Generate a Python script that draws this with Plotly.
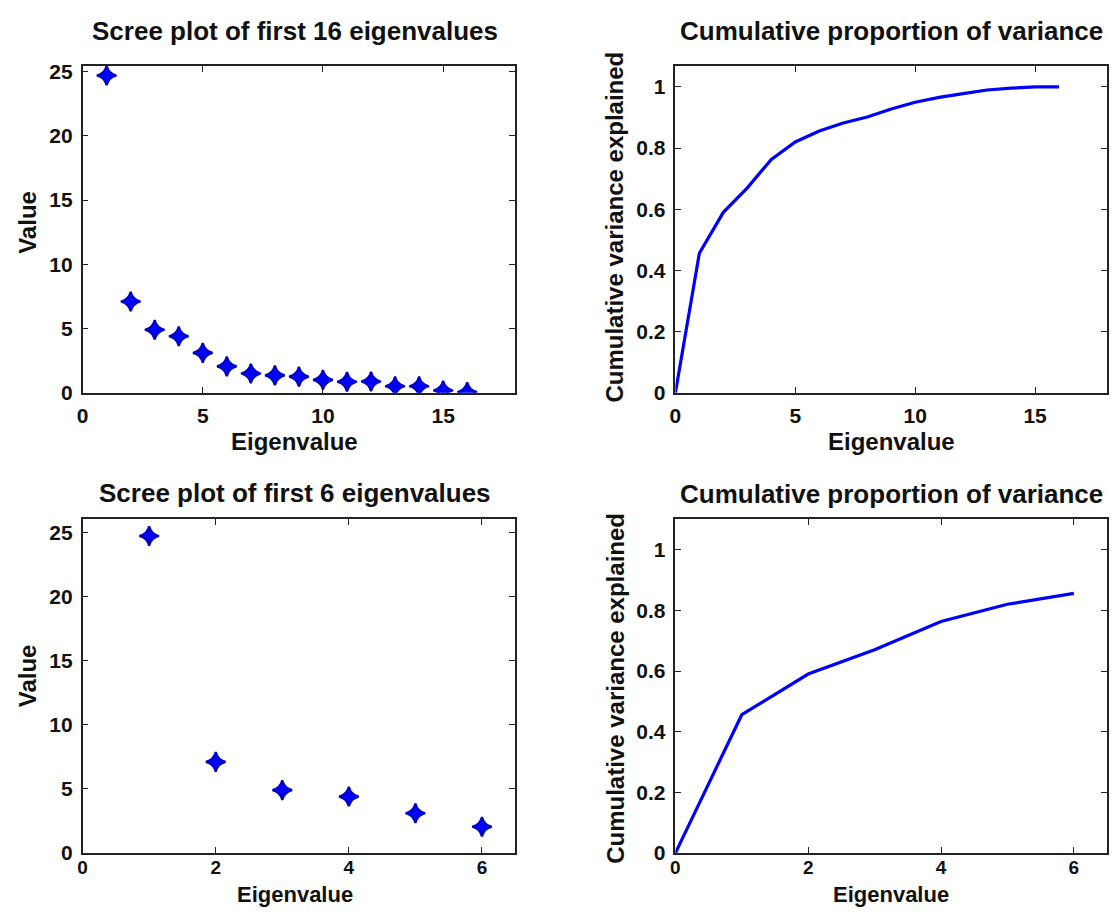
import plotly.graph_objects as go

# ---- data ----
eig_index = [1, 2, 3, 4, 5, 6, 7, 8, 9, 10, 11, 12, 13, 14, 15, 16]
eigenvalues = [24.7, 7.1, 4.9, 4.4, 3.1, 2.05, 1.5, 1.35, 1.25, 1.0, 0.85, 0.87, 0.5, 0.5, 0.17, 0.05]
cum_index = [0, 1, 2, 3, 4, 5, 6, 7, 8, 9, 10, 11, 12, 13, 14, 15, 16]
cum_variance = [0, 0.456, 0.59, 0.67, 0.763, 0.82, 0.856, 0.882, 0.902, 0.928, 0.95,
                0.966, 0.978, 0.99, 0.996, 1.0, 1.0]
n_small = 6

titles = ["Scree plot of first 16 eigenvalues", "Cumulative proportion of variance",
          "Scree plot of first 6 eigenvalues", "Cumulative proportion of variance"]
xlabel = "Eigenvalue"
ylabels = ["Value", "Cumulative variance explained", "Value", "Cumulative variance explained"]

W, H = 1115, 919
FONT = "Liberation Sans, Arial, Helvetica, sans-serif"
BLUE = "#0000ff"

def px_x(a, b):
    return [a / W, b / W]

def px_y(top, bottom):
    return [1 - bottom / H, 1 - top / H]

fig = go.Figure()

star = dict(symbol="star-diamond", size=14, color=BLUE, line=dict(color="#0000c8", width=2.2))

fig.add_trace(go.Scatter(x=eig_index, y=eigenvalues, mode="markers", marker=star,
                         xaxis="x", yaxis="y", showlegend=False))
fig.add_trace(go.Scatter(x=cum_index, y=cum_variance, mode="lines",
                         line=dict(color=BLUE, width=3.2), xaxis="x2", yaxis="y2", showlegend=False))
fig.add_trace(go.Scatter(x=eig_index[:n_small], y=eigenvalues[:n_small], mode="markers", marker=star,
                         xaxis="x3", yaxis="y3", showlegend=False))
fig.add_trace(go.Scatter(x=cum_index[:n_small + 1], y=cum_variance[:n_small + 1], mode="lines",
                         line=dict(color=BLUE, width=3.2), xaxis="x4", yaxis="y4", showlegend=False))

tickfont = dict(family=FONT, size=21, color="#111111", weight="bold")
tickfont_small = dict(family=FONT, size=19, color="#111111", weight="bold")

def ax(domain, rng, dtick, anchor, **kw):
    d = dict(domain=domain, range=rng, dtick=dtick, tick0=0, anchor=anchor,
             showline=True, linecolor="#222222", linewidth=1.5, mirror="ticks",
             ticks="inside", ticklen=6, tickwidth=1.3, tickcolor="#222222",
             showgrid=False, zeroline=False, tickfont=tickfont, fixedrange=True)
    d.update(kw)
    return d

TOP = px_y(61, 394)
BOT = px_y(523, 863)
LEFT = px_x(77, 512)
RIGHT = px_x(673, 1107)

fig.update_layout(
    width=W, height=H, autosize=False,
    margin=dict(l=0, r=0, t=0, b=0),
    paper_bgcolor="white", plot_bgcolor="white",
    xaxis=ax(LEFT, [0, 18], 5, "y", ticklabelstandoff=3),
    yaxis=ax(TOP, [0, 25.45], 5, "x", ticklabelstandoff=4),
    xaxis2=ax(RIGHT, [0, 18], 5, "y2", ticklabelstandoff=3),
    yaxis2=ax(TOP, [0, 1.069], 0.2, "x2", ticklabelstandoff=4, tickformat="~g"),
    xaxis3=ax(LEFT, [0, 6.5], 2, "y3", ticklabelstandoff=-4, tickfont=tickfont_small),
    yaxis3=ax(BOT, [0, 26], 5, "x3", ticklabelstandoff=4),
    xaxis4=ax(RIGHT, [0, 6.5], 2, "y4", ticklabelstandoff=-4, tickfont=tickfont_small),
    yaxis4=ax(BOT, [0, 1.1], 0.2, "x4", ticklabelstandoff=4, tickformat="~g"),
)

title_font = dict(family=FONT, size=26, color="#111111", weight="bold")
label_font = dict(family=FONT, size=24, color="#111111", weight="bold")
label_font_bottom = dict(family=FONT, size=22, color="#111111", weight="bold")

centers_x = [(77 + 512) / 2 - 4, (673 + 1107) / 2, (77 + 512) / 2 - 4, (673 + 1107) / 2]
title_y = [25, 25, 496, 497]
ylab_x = [22, 612, 22, 612]
ylab_y = [220, 225, 682, 695]

annotations = []
for i in range(4):
    annotations.append(dict(text=titles[i], x=centers_x[i] / W, y=1 - title_y[i] / H,
                            xref="paper", yref="paper", xanchor="center", yanchor="middle",
                            showarrow=False, font=title_font))
    if i < 2:
        annotations.append(dict(text=xlabel, x=centers_x[i] / W, y=1 - 444 / H,
                                xref="paper", yref="paper", xanchor="center", yanchor="middle",
                                showarrow=False, font=label_font))
    else:
        annotations.append(dict(text=xlabel, x=centers_x[i] / W, y=0,
                                xref="paper", yref="paper", xanchor="center", yanchor="bottom",
                                borderpad=0, showarrow=False, font=label_font_bottom))
    annotations.append(dict(text=ylabels[i], x=ylab_x[i] / W, y=1 - ylab_y[i] / H,
                            xref="paper", yref="paper", xanchor="center", yanchor="middle",
                            textangle=-90, showarrow=False, font=label_font))
fig.update_layout(annotations=annotations)

fig.write_html("out.html")
